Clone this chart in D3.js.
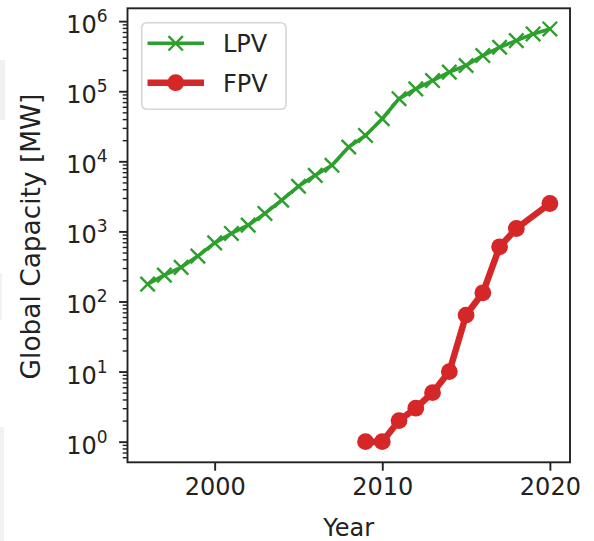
<!DOCTYPE html>
<html>
<head>
<meta charset="utf-8">
<script src="https://cdn.jsdelivr.net/npm/d3@7"></script>
<style>
    body { margin: 0; background: #fff; }
    text { font-family: "DejaVu Sans", sans-serif; fill: #222; }
</style>
</head>
<body>
<div id="chart-area"></div>
<script>
// Data
var lpvYears = [1996, 1997, 1998, 1999, 2000, 2001, 2002, 2003, 2004, 2005, 2006, 2007, 2008,
    2009, 2010, 2011, 2012, 2013, 2014, 2015, 2016, 2017, 2018, 2019, 2020];
var lpvValues = [177, 238, 307, 444, 687, 935, 1228, 1803, 2786, 4406, 6310, 8770, 16000,
    23400, 40500, 78200, 108000, 142000, 187000, 233000, 323000, 424000, 527000, 657000, 774000];
var fpvYears = [2009, 2010, 2011, 2012, 2013, 2014, 2015, 2016, 2017, 2018, 2020];
var fpvValues = [1, 1, 2, 3, 5, 10, 64, 133, 603, 1100, 2500];
var xTicks = [2000, 2010, 2020];
var yTickExps = [0, 1, 2, 3, 4, 5, 6];
var seriesNames = ["LPV", "FPV"];

var width = 594, height = 541;
var margin = { left: 127.5, right: 24, top: 8.3, bottom: 78.7 };
var plotW = width - margin.left - margin.right,
    plotH = height - margin.top - margin.bottom;

var svg = d3.select("#chart-area").append("svg")
    .attr("width", width)
    .attr("height", height);

// faint window bits at the left edge of the screenshot
[[60, 60, 5], [273, 47, 2], [427, 114, 4]].forEach(function(r) {
    svg.append("rect").attr("x", 0).attr("y", r[0])
        .attr("width", r[2]).attr("height", r[1]).attr("fill", "#f1f1f1");
});

var g = svg.append("g")
    .attr("transform", "translate(" + margin.left + "," + margin.top + ")");

var lpv = lpvYears.map(function(y, i) { return { year: y, value: lpvValues[i] }; });
var fpv = fpvYears.map(function(y, i) { return { year: y, value: fpvValues[i] }; });
var all = lpv.concat(fpv);

// matplotlib style 5% margins
var xExt = d3.extent(all, function(d) { return d.year; });
var xPad = (xExt[1] - xExt[0]) * 0.05;
var x = d3.scaleLinear().domain([xExt[0] - xPad, xExt[1] + xPad]).range([0, plotW]);

var lExt = d3.extent(all, function(d) { return Math.log10(d.value); });
var lPad = (lExt[1] - lExt[0]) * 0.05;
var y = d3.scaleLog()
    .domain([Math.pow(10, lExt[0] - lPad), Math.pow(10, lExt[1] + lPad)])
    .range([plotH, 0]);

// Axes
var xAxisCall = d3.axisBottom(x).tickValues(xTicks).tickSize(8.4).tickPadding(7)
    .tickFormat(d3.format("d"));
var xAxis = g.append("g")
    .attr("transform", "translate(0," + plotH + ")")
    .call(xAxisCall);
xAxis.select(".domain").remove();
xAxis.selectAll("line").attr("stroke", "#222").attr("stroke-width", 1.9);
xAxis.selectAll("text").attr("font-size", "24px").attr("font-family", "DejaVu Sans")
    .attr("fill", "#222").attr("dy", null).attr("y", 32.5);

// minor y ticks
var minor = [];
for (var k = -1; k <= 6; k++) {
    for (var m = 2; m <= 9; m++) {
        var v = m * Math.pow(10, k);
        if (v >= y.domain()[0] && v <= y.domain()[1]) minor.push(v);
    }
}
var yMinor = g.append("g")
    .call(d3.axisLeft(y).tickValues(minor).tickSize(4.8).tickFormat(""));
yMinor.select(".domain").remove();
yMinor.selectAll("line").attr("stroke", "#222").attr("stroke-width", 1.4);

var yAxis = g.append("g")
    .call(d3.axisLeft(y).tickValues(yTickExps.map(function(e) { return Math.pow(10, e); }))
        .tickSize(8.4).tickFormat(""));
yAxis.select(".domain").remove();
yAxis.selectAll("line").attr("stroke", "#222").attr("stroke-width", 1.9);

// 10^n labels
yTickExps.forEach(function(e) {
    var t = g.append("text")
        .attr("x", -20)
        .attr("y", y(Math.pow(10, e)) + 12)
        .attr("text-anchor", "end")
        .attr("font-size", "24px");
    t.append("tspan").text("10");
    t.append("tspan").attr("dy", -11).attr("font-size", "17px").text(e);
});

// spines
g.append("rect")
    .attr("width", plotW).attr("height", plotH)
    .attr("fill", "none").attr("stroke", "#222").attr("stroke-width", 1.9);

// Axis labels
g.append("text")
    .attr("x", plotW / 2)
    .attr("y", plotH + 73.5)
    .attr("font-size", "24px")
    .attr("text-anchor", "middle")
    .text("Year");
svg.append("text")
    .attr("transform", "translate(39.5,236.5) rotate(-90)")
    .attr("font-size", "26.4px")
    .attr("text-anchor", "middle")
    .text("Global Capacity [MW]");

var line = d3.line()
    .x(function(d) { return x(d.year); })
    .y(function(d) { return y(d.value); });

var xMark = "M-7.2,-7.2L7.2,7.2M-7.2,7.2L7.2,-7.2";

// LPV
g.append("path")
    .attr("d", line(lpv))
    .attr("fill", "none").attr("stroke", "#2ca02c").attr("stroke-width", 3.6)
    .attr("stroke-linejoin", "round");
g.selectAll(".lpv-mark").data(lpv).enter().append("path")
    .attr("class", "lpv-mark")
    .attr("transform", function(d) { return "translate(" + x(d.year) + "," + y(d.value) + ")"; })
    .attr("d", xMark)
    .attr("stroke", "#2ca02c").attr("stroke-width", 2.4);

// FPV
g.append("path")
    .attr("d", line(fpv))
    .attr("fill", "none").attr("stroke", "#d62728").attr("stroke-width", 6.5)
    .attr("stroke-linejoin", "round");
g.selectAll(".fpv-mark").data(fpv).enter().append("circle")
    .attr("class", "fpv-mark")
    .attr("cx", function(d) { return x(d.year); })
    .attr("cy", function(d) { return y(d.value); })
    .attr("r", 8.4)
    .attr("fill", "#d62728");

// Legend
var legend = svg.append("g");
legend.append("rect")
    .attr("x", 141.7).attr("y", 22.7)
    .attr("width", 144.3).attr("height", 86.6)
    .attr("rx", 5)
    .attr("fill", "#fff").attr("fill-opacity", 0.8)
    .attr("stroke", "#d6d6d6").attr("stroke-width", 1.6);

var legendRows = [
    { name: seriesNames[0], color: "#2ca02c", lw: 3.6, y: 43.3 },
    { name: seriesNames[1], color: "#d62728", lw: 6.5, y: 82.7 }
];
legendRows.forEach(function(r, i) {
    legend.append("line")
        .attr("x1", 147.5).attr("x2", 204)
        .attr("y1", r.y).attr("y2", r.y)
        .attr("stroke", r.color).attr("stroke-width", r.lw);
    if (i == 0) {
        legend.append("path")
            .attr("transform", "translate(175.7," + r.y + ")")
            .attr("d", xMark)
            .attr("stroke", r.color).attr("stroke-width", 2.4);
    } else {
        legend.append("circle")
            .attr("cx", 175.7).attr("cy", r.y).attr("r", 8.4)
            .attr("fill", r.color);
    }
    legend.append("text")
        .attr("x", 223)
        .attr("y", r.y + 9)
        .attr("font-size", "24px")
        .text(r.name);
});
</script>
</body>
</html>
